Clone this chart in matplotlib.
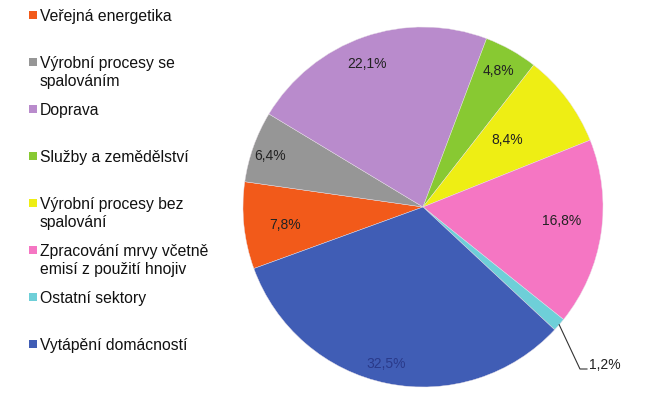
import numpy as np
import matplotlib
matplotlib.use("Agg")
import matplotlib.pyplot as plt
from matplotlib.patches import Rectangle

categories = [
    "Veřejná energetika",
    "Výrobní procesy se\nspalováním",
    "Doprava",
    "Služby a zemědělství",
    "Výrobní procesy bez\nspalování",
    "Zpracování mrvy včetně\nemisí z použití hnojiv",
    "Ostatní sektory",
    "Vytápění domácností",
]
values = [7.8, 6.4, 22.1, 4.8, 8.4, 16.8, 1.2, 32.5]
value_labels = ["7,8%", "6,4%", "22,1%", "4,8%", "8,4%", "16,8%", "1,2%", "32,5%"]
colors = ["#F25A1A", "#969696", "#B98BCC", "#88C932", "#EEEE14",
          "#F576C3", "#6ECFD8", "#405DB5"]

# label layout (radius fraction, outside flag)
label_r = [0.77, 0.90, 0.87, 0.88, 0.61, 0.77, None, 0.88]
label_da = [0, 0, 2, 1, 3, 4, 0, -2]
label_colors = ["#222222"] * 8
label_colors[7] = "#2a3a8a"

plt.rcParams['font.family'] = ['Liberation Sans', 'DejaVu Sans']

W, H = 648, 402
fig = plt.figure(figsize=(W / 100, H / 100), dpi=100)
cx, cy, R = 423, 208, 180
ax = fig.add_axes([(cx - R) / W, (H - cy - R) / H, 2 * R / W, 2 * R / H])

wedges, _ = ax.pie(values, colors=colors, startangle=200, counterclock=False,
                   radius=1.0, wedgeprops=dict(edgecolor="#e8e0e8", linewidth=0.3))
ax.set_xlim(-1, 1)
ax.set_ylim(-1, 1)
ax.set_aspect("equal")
ax.axis("off")

for i, w in enumerate(wedges):
    mid = np.deg2rad((w.theta1 + w.theta2) / 2 + label_da[i])
    if label_r[i] is not None:
        r = label_r[i]
        ax.text(r * np.cos(mid), r * np.sin(mid) - 0.012, value_labels[i], ha="center",
                va="center", fontsize=10, color=label_colors[i])
    else:
        x0, y0 = np.cos(mid), np.sin(mid)
        ax.plot([x0, 0.872, 0.911], [y0, -0.9, -0.9], color="#333333",
                lw=0.8, clip_on=False)
        ax.text(0.925, -0.875, value_labels[i], ha="left", va="center",
                fontsize=10, color="#222222", clip_on=False)

# legend
for i, (lab, col) in enumerate(zip(categories, colors)):
    yc = 16 + 47 * i
    fig.patches.append(Rectangle((29 / W, 1 - (yc + 4) / H), 8 / W, 8 / H,
                                 transform=fig.transFigure, facecolor=col,
                                 edgecolor="none"))
    fig.text(40 / W, 1 - (yc - 7) / H, lab, ha="left", va="top", fontsize=11.3,
             color="#111111", linespacing=1.22)

fig.savefig("out.png", dpi=100)
